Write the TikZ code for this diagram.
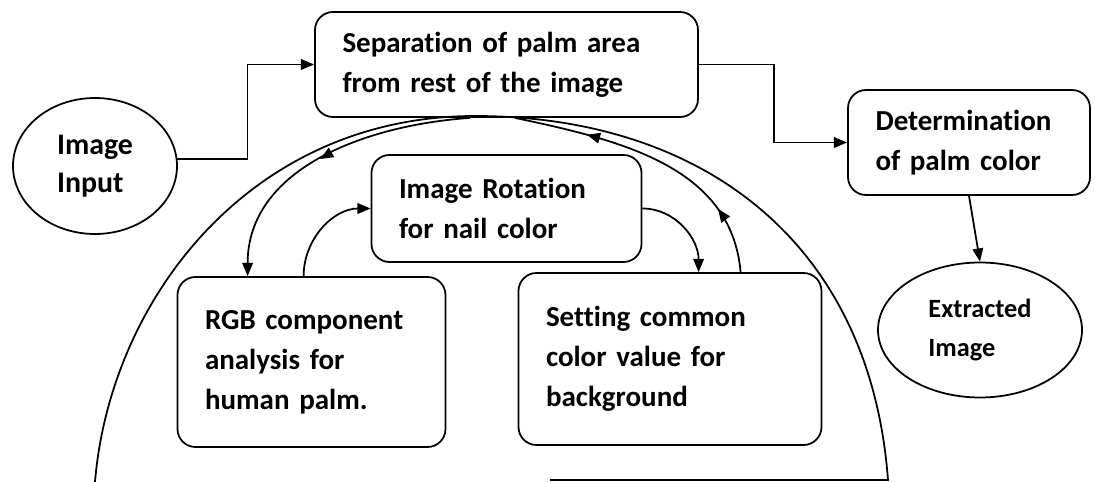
\documentclass[tikz,border=0pt]{standalone}
\usepackage{fontspec}
\setmainfont{Carlito}[Ligatures=NoCommon]
\usetikzlibrary{arrows.meta, positioning, shapes.geometric, decorations.markings}

\begin{document}
\begin{tikzpicture}[>={Triangle[length=7.5pt,width=6pt]}, line width=1pt, on grid,
    proc/.style 2 args={draw, rounded corners=0.36cm, align=left, inner xsep=0.55cm,
        text width=#1, minimum height=#2, font=\fontsize{16.5}{22.7}\selectfont\bfseries},
    blob/.style={draw, ellipse, inner sep=0pt, align=left,
        font=\fontsize{17}{21.5}\selectfont\bfseries},
    midarr/.style={postaction={decorate},
        decoration={markings, mark=at position #1 with {\arrow{>}}}},
    twoarr/.style={postaction={decorate},
        decoration={markings, mark=at position 0.23 with {\arrow{>}},
            mark=at position 0.75 with {\arrow{>}}}}]
    \useasboundingbox (0,0) rectangle (21.9,9.64);

    \node[blob, minimum width=3.28cm, minimum height=2.72cm] (imgin) at (1.9,6.32) {Image\\Input};
    \node[proc={6.56cm}{2.1cm}, above right=2.03cm and 8.23cm of imgin] (sep) {Separation of palm area\\from rest of the image};
    \node[proc={3.74cm}{2.1cm}, below right=1.56cm and 9.25cm of sep] (det) {Determination\\of palm color};
    \node[blob, minimum width=4.08cm, minimum height=2.7cm, font=\fontsize{15}{22.7}\selectfont\bfseries,
        below right=3.75cm and 0.22cm of det] (ext) {Extracted\\Image};
    \node[proc={4.3cm}{2.14cm}, below=2.88cm of sep] (rot) {Image Rotation\\for nail color};
    \node[proc={4.26cm}{3.4cm}, below left=3.07cm and 3.9cm of rot] (rgb) {RGB component\\analysis for\\human palm.};
    \node[proc={4.96cm}{3.44cm}, below right=3.01cm and 3.27cm of rot] (set) {Setting common\\color value for\\background};

    % outer arc round the loop
    \draw (1.9,0) .. controls (2.2,3.64) and (5.0,7.32) .. (9.5,7.32)
        .. controls (14.0,7.32) and (17.4,4.84) .. (17.76,0.04) -- (11.0,0.04);

    \draw[->] (imgin.5) -- ++(1.4,0) |- (sep.west);
    \draw[->] (sep.east) -- ++(1.5,0) |- (det.west);
    \draw[->] (det.south) -- (ext.north);

    \draw[->, midarr=0.52] ([xshift=-0.73cm]sep.south) to[out=184,in=90] ([xshift=1.42cm]rgb.north west);
    \draw[->] ([xshift=2.54cm]rgb.north west) to[out=90,in=180] (rot.west);
    \draw[->] (rot.east) to[out=0,in=90] ([xshift=3.62cm]set.north west);
    \draw[twoarr] ([xshift=4.46cm]set.north west) to[out=95,in=-12] ([xshift=0.17cm]sep.south);
\end{tikzpicture}
\end{document}
